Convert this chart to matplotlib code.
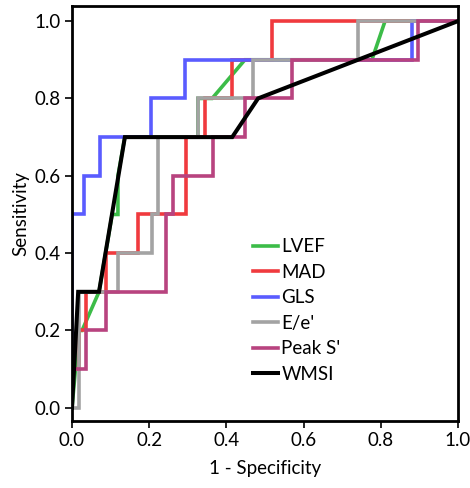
import numpy as np
import matplotlib
matplotlib.use('agg')
import matplotlib.pyplot as plt

plt.rcParams['font.family'] = ['Lato', 'DejaVu Sans']

# ROC curve vertices (1 - specificity, sensitivity) for each marker
lvef_x = [0.0, 0.018, 0.026, 0.070, 0.104, 0.119, 0.119, 0.137, 0.326, 0.326, 0.363, 0.448, 0.777, 0.811, 1.0]
lvef_y = [0.0, 0.2, 0.2, 0.3, 0.5, 0.5, 0.6, 0.7, 0.7, 0.8, 0.8, 0.9, 0.9, 1.0, 1.0]

mad_x = [0.0, 0.0, 0.018, 0.018, 0.036, 0.036, 0.088, 0.088, 0.171, 0.171, 0.295, 0.295, 0.345, 0.345, 0.415, 0.415, 0.518, 0.518, 1.0]
mad_y = [0.0, 0.1, 0.1, 0.2, 0.2, 0.3, 0.3, 0.4, 0.4, 0.5, 0.5, 0.7, 0.7, 0.8, 0.8, 0.9, 0.9, 1.0, 1.0]

gls_x = [0.0, 0.0, 0.031, 0.031, 0.073, 0.073, 0.205, 0.205, 0.293, 0.293, 0.881, 0.881, 1.0]
gls_y = [0.0, 0.5, 0.5, 0.6, 0.6, 0.7, 0.7, 0.8, 0.8, 0.9, 0.9, 1.0, 1.0]

ee_x = [0.0, 0.018, 0.018, 0.119, 0.119, 0.207, 0.207, 0.223, 0.223, 0.326, 0.326, 0.469, 0.469, 0.741, 0.741, 1.0]
ee_y = [0.0, 0.0, 0.3, 0.3, 0.4, 0.4, 0.5, 0.5, 0.7, 0.7, 0.8, 0.8, 0.9, 0.9, 1.0, 1.0]

peaks_x = [0.0, 0.0, 0.036, 0.036, 0.088, 0.088, 0.244, 0.244, 0.262, 0.262, 0.365, 0.365, 0.448, 0.448, 0.570, 0.570, 0.896, 0.896, 1.0]
peaks_y = [0.0, 0.1, 0.1, 0.2, 0.2, 0.3, 0.3, 0.5, 0.5, 0.6, 0.6, 0.7, 0.7, 0.8, 0.8, 0.9, 0.9, 1.0, 1.0]

wmsi_x = [0.0, 0.016, 0.070, 0.137, 0.415, 0.482, 1.0]
wmsi_y = [0.0, 0.3, 0.3, 0.7, 0.7, 0.8, 1.0]

series = [
    ('LVEF', lvef_x, lvef_y, '#3cbc48'),
    ('MAD', mad_x, mad_y, '#f03a3e'),
    ('GLS', gls_x, gls_y, '#5a5cff'),
    ("E/e'", ee_x, ee_y, '#a3a3a3'),
    ("Peak S'", peaks_x, peaks_y, '#b8437f'),
    ('WMSI', wmsi_x, wmsi_y, '#000000'),
]

fig = plt.figure(figsize=(4.70, 4.88), dpi=100)
ax = fig.add_axes([72/470, 1 - 421/488, 386/470, 415/488])

for name, xs, ys, col in series:
    lw = 2.9 if col == '#000000' else 2.6
    ax.plot(xs, ys, color=col, lw=lw, label=name, solid_joinstyle='miter')

ticks = np.arange(0, 1.01, 0.2)
ax.set_xlim(0.0, 1.0)
ax.set_ylim(-0.034, 1.039)
ax.set_xticks(ticks)
ax.set_yticks(ticks)
ax.set_xticklabels(['%.1f' % v for v in ticks])
ax.set_yticklabels(['%.1f' % v for v in ticks])
ax.tick_params(direction='out', length=5, width=1.2, labelsize=13.5, pad=3)
for sp in ax.spines.values():
    sp.set_linewidth(2.0)

ax.set_xlabel('1 - Specificity', fontsize=13.5, labelpad=8)
ax.set_ylabel('Sensitivity', fontsize=13.5, labelpad=4)

ax.legend(loc='upper left', bbox_to_anchor=(0.45, 0.458), frameon=False,
          fontsize=13.5, handlelength=1.3, handletextpad=0.2, labelspacing=0.45,
          borderaxespad=0)

fig.savefig('out.png', dpi=100)
plt.close('all')
